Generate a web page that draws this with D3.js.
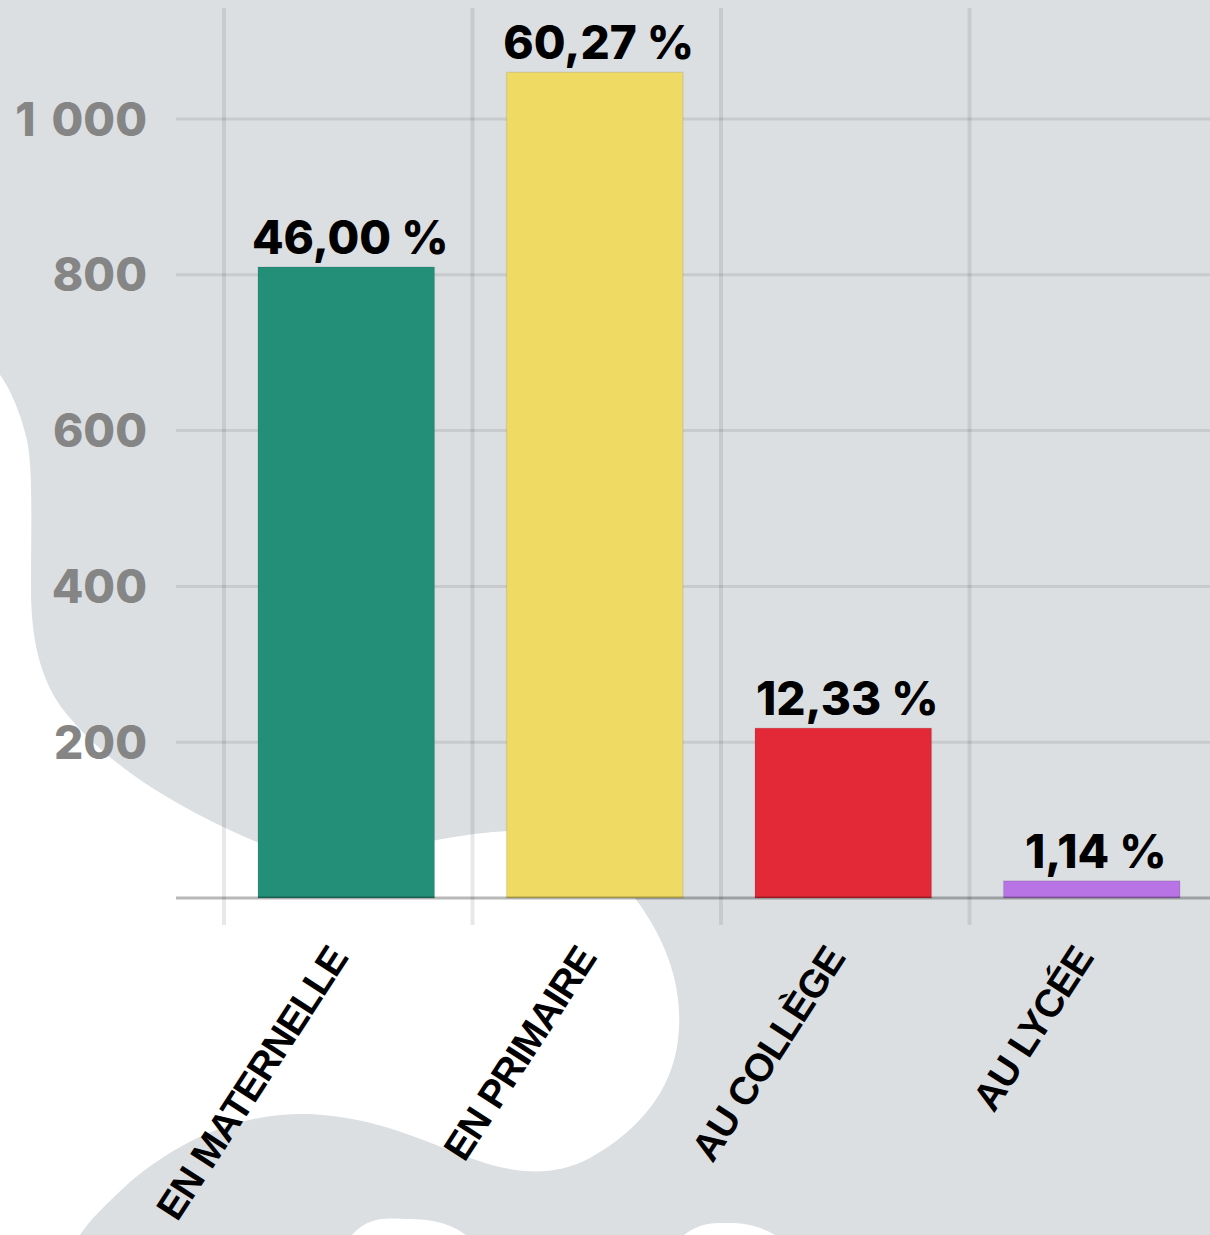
<!DOCTYPE html>
<html>
<head>
<meta charset="utf-8">
<script src="https://cdn.jsdelivr.net/npm/d3@7/dist/d3.min.js"></script>
<style>
  html, body { margin: 0; padding: 0; background: #dcdfe2; }
  svg { display: block; }
</style>
</head>
<body>
<svg id="chart" width="1210" height="1235"></svg>
<script>
// ---- data ----
const categories = ["EN MATERNELLE", "EN PRIMAIRE", "AU COLLÈGE", "AU LYCÉE"];
const values = [810, 1060, 218, 22];
const valueLabels = ["46,00 %", "60,27 %", "12,33 %", "1,14 %"];
const barColors = ["#238f79", "#efdb64", "#e32837", "#b874e4"];
const yTicks = [200, 400, 600, 800, 1000];
const yTickLabels = ["200", "400", "600", "800", "1 000"];

// ---- layout ----
const W = 1210, H = 1235;
const svg = d3.select("#chart");

// background decoration
svg.append("rect").attr("width", W).attr("height", H).attr("fill", "#dcdfe2");
const blobs = svg.append("g").attr("fill", "#ffffff");
blobs.append("path").attr("d",
  "M0,375 C8,385 20,410 27,440 C33,470 31,520 31,590 C31,650 45,690 70,718 " +
  "C110,765 170,805 259,843 C300,856 380,852 437,840 C480,832 520,828 550,833 " +
  "C590,842 615,870 640,905 C668,945 684,990 678,1040 C672,1090 640,1130 590,1158 " +
  "C555,1176 520,1176 470,1158 C420,1140 380,1118 310,1114 C240,1112 180,1140 130,1182 " +
  "C105,1205 88,1222 80,1235 L0,1235 Z");
blobs.append("path").attr("d", "M352,1235 C370,1214 392,1219 409,1219 C430,1219 448,1222 466,1235 Z");
blobs.append("path").attr("d", "M684,1235 C700,1222 716,1223 729,1223 C745,1223 760,1226 775,1235 Z");

const x = d3.scaleBand().domain(categories).range([222, 1216]).paddingInner(0.29).paddingOuter(0.145);
const y = d3.scaleLinear().domain([0, 1000]).range([898, 119]);

const gridColor = "rgba(0,0,0,0.09)";

// horizontal gridlines
svg.append("g").selectAll("line").data(yTicks).join("line")
  .attr("x1", 176).attr("x2", W)
  .attr("y1", d => y(d)).attr("y2", d => y(d))
  .attr("stroke", gridColor).attr("stroke-width", 3);

// vertical gridlines at band boundaries
const step = x.step();
svg.append("g").selectAll("line").data(categories).join("line")
  .attr("x1", d => x(d) + x.bandwidth() / 2 - step / 2 + 2)
  .attr("x2", d => x(d) + x.bandwidth() / 2 - step / 2 + 2)
  .attr("y1", 8).attr("y2", 925)
  .attr("stroke", gridColor).attr("stroke-width", 4);

// bars
svg.append("g").selectAll("rect").data(categories).join("rect")
  .attr("x", d => x(d))
  .attr("width", x.bandwidth())
  .attr("y", (d, i) => y(values[i]))
  .attr("height", (d, i) => y(0) - y(values[i]))
  .attr("fill", (d, i) => barColors[i])
  .attr("stroke", "rgba(0,0,0,0.08)").attr("stroke-width", 1.5);

// baseline
svg.append("line").attr("x1", 176).attr("x2", W)
  .attr("y1", y(0)).attr("y2", y(0))
  .attr("stroke", "rgba(0,0,0,0.28)").attr("stroke-width", 3);

// y tick labels
svg.append("g").selectAll("text").data(yTicks).join("text")
  .attr("x", 147).attr("y", d => y(d))
  .attr("dy", "0.36em")
  .attr("text-anchor", "end")
  .attr("font-family", "Inter, 'Open Sans', sans-serif")
  .attr("font-weight", 800)
  .attr("font-size", 46)
  .attr("word-spacing", 6)
  .attr("fill", "#858585")
  .text((d, i) => yTickLabels[i]);

// value labels
svg.append("g").selectAll("text").data(categories).join("text")
  .attr("x", d => x(d) + x.bandwidth() / 2 + 4)
  .attr("y", (d, i) => y(values[i]) - 13)
  .attr("text-anchor", "middle")
  .attr("font-family", "Inter, 'Open Sans', sans-serif")
  .attr("font-weight", 800)
  .attr("font-size", 46)
  .attr("fill", "#000")
  .text((d, i) => valueLabels[i]);

// x category labels (rotated)
svg.append("g").selectAll("text").data(categories).join("text")
  .attr("transform", d => `translate(${x(d) + x.bandwidth() / 2 + 3},958) rotate(-57)`)
  .attr("text-anchor", "end")
  .attr("font-family", "'Liberation Sans', Arial, sans-serif")
  .attr("font-weight", 700)
  .attr("font-size", 39)
  .attr("letter-spacing", -1)
  .attr("fill", "#000")
  .text(d => d);
</script>
</body>
</html>
